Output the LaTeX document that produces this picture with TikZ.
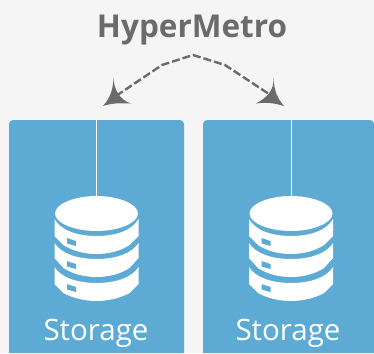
\documentclass[tikz,border=0pt]{standalone}
\usepackage{fontspec}
\setmainfont{Open Sans}
\definecolor{bgc}{HTML}{F5F5F5}
\definecolor{panelc}{HTML}{5DABD4}
\definecolor{greyc}{HTML}{6B6B6B}
\tikzset{
  panel/.style={fill=panelc,draw=none},
  link/.style={draw=greyc,line width=2.4pt,dash pattern=on 8pt off 3pt},
  tip/.style={fill=greyc,draw=none},
  wire/.style={draw=white,line width=0.9pt},
  lbl/.style={text=white,font=\fontsize{29.5}{31}\selectfont,inner sep=0pt},
  title/.style={text=greyc,font=\bfseries\fontsize{31.5}{33}\selectfont,inner sep=0pt}
}
\newcommand{\dbstack}[2]{%
  \begin{scope}[shift={(#1,0)}]
    \fill[white] (-41.5,213.5) .. controls (-41.5,204) and (-22,196) .. (0,196) .. controls (22,196) and (41.5,204) .. (41.5,213.5) .. controls (41.5,223) and (22,231) .. (0,231) .. controls (-22,231) and (-41.5,223) .. (-41.5,213.5) -- cycle;
    \fill[white] (-42,219) .. controls (-36,230) and (-20,236) .. (0,236) .. controls (20,236) and (36,230) .. (42,219) -- (42,236) -- (33,245) .. controls (24,251) and (12,254) .. (0,254) .. controls (-12,254) and (-24,251) .. (-33,245) -- (-42,236) -- cycle;
    \fill[white] (-42,243) .. controls (-36,253) and (-20,259) .. (0,259) .. controls (20,259) and (36,253) .. (42,243) -- (42,258) -- (33,268) .. controls (24,274) and (12,277) .. (0,277) .. controls (-12,277) and (-24,274) .. (-33,268) -- (-42,258) -- cycle;
    \fill[white] (-42,267) .. controls (-36,277) and (-20,283) .. (0,283) .. controls (20,283) and (36,277) .. (42,267) -- (42,284) -- (33,293) .. controls (24,298) and (12,301) .. (0,301) .. controls (-12,301) and (-24,298) .. (-33,293) -- (-42,284) -- cycle;
    \fill[panelc] (-29.5,238) -- (-20.5,241) -- (-20.5,246) -- (-29.5,243.5) -- cycle;
    \fill[panelc] (-29.5,261) -- (-20.5,264) -- (-20.5,269) -- (-29.5,266.5) -- cycle;
    \fill[panelc] (-29.5,284) -- (-20.5,287) -- (-20.5,292) -- (-29.5,289.5) -- cycle;
  \end{scope}}
\begin{document}
\begin{tikzpicture}[x=1pt,y=-1pt]
  \useasboundingbox (0,0) rectangle (374,353);
  \fill[bgc] (0,0) rectangle (374,353);
  \fill[panel] (9,353) [rounded corners=4pt] -- (9,120) -- (184,120) [sharp corners] -- (184,353) -- cycle;
  \fill[panel] (203,353) [rounded corners=4pt] -- (203,120) -- (374,120) [sharp corners] -- (374,353) -- cycle;
  \node[title] (t) at (192,30) {HyperMetro};
  \coordinate (a) at (116,96);
  \coordinate (m1) at (162,65);
  \coordinate (m) at (193,55);
  \coordinate (m2) at (225,65);
  \coordinate (b) at (272,96);
  \draw[link] (a) -- (m1) -- (m) -- (m2) -- (b);
  \fill[tip] (113.5,78) .. controls (114,90) and (120,100) .. (131,103.5) .. controls (120,103) and (112,103) .. (103,106) .. controls (110,98) and (113,90) .. (113.5,78) -- cycle;
  \fill[tip] (273.5,78) .. controls (274,90) and (268,97) .. (256,103.5) .. controls (266,102) and (274,103) .. (284,106) .. controls (277,98) and (274,90) .. (273.5,78) -- cycle;
  \coordinate (w1t) at (96.5,120); \coordinate (w1b) at (96.5,196);
  \coordinate (w2t) at (291,120); \coordinate (w2b) at (291,196);
  \draw[wire] (w1t) -- (w1b);
  \draw[wire] (w2t) -- (w2b);
  \dbstack{96.5}{}
  \dbstack{291}{}
  \node[lbl] (s1) at (96,333) {Storage};
  \node[lbl] (s2) at (288,333) {Storage};
\end{tikzpicture}
\end{document}
